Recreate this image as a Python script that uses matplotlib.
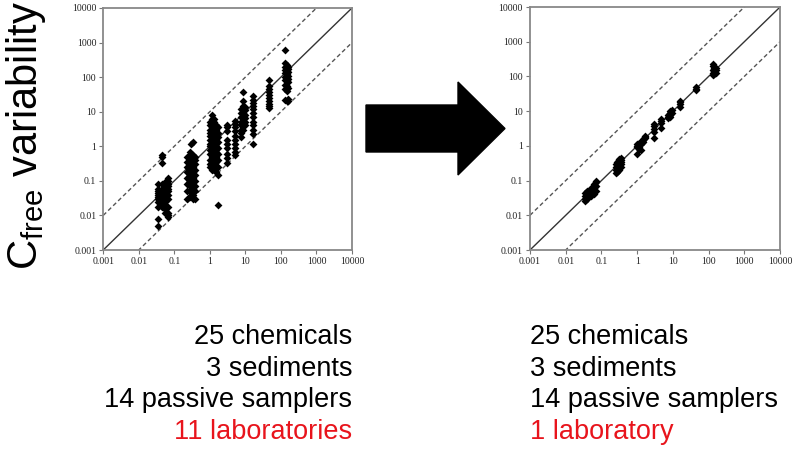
import numpy as np
import matplotlib.pyplot as plt
from matplotlib.patches import Polygon

plt.rcParams['font.family'] = ['Liberation Sans', 'DejaVu Sans']
plt.rcParams['mathtext.default'] = 'regular'

# ── data: one x per column, many y values per column ──
ticks = [0.001, 0.01, 0.1, 1, 10, 100, 1000, 10000]
tick_labels = ["0.001", "0.01", "0.1", "1", "10", "100", "1000", "10000"]

left_x = [0.035, 0.045, 0.055, 0.065,
          0.23, 0.27, 0.30, 0.34, 0.38,
          1.0, 1.15, 1.3, 1.5, 1.7,
          3.0, 5.0, 7.5, 8.5, 9.5, 16.5, 45, 130, 145, 160]
left_y = [
    [0.08, 0.06, 0.05, 0.045, 0.04, 0.035, 0.03, 0.025, 0.018, 0.008, 0.005],
    [0.55, 0.5, 0.32, 0.08, 0.06, 0.05, 0.04, 0.035, 0.03, 0.02, 0.018],
    [0.09, 0.07, 0.06, 0.05, 0.045, 0.04, 0.03, 0.025, 0.02, 0.015, 0.012],
    [0.12, 0.1, 0.08, 0.07, 0.06, 0.05, 0.04, 0.03, 0.018, 0.012, 0.01, 0.009],
    [0.5, 0.35, 0.25, 0.18, 0.12, 0.08, 0.05, 0.03],
    [0.7, 0.5, 0.4, 0.3, 0.22, 0.15, 0.1, 0.07, 0.05, 0.035],
    [1.2, 0.6, 0.45, 0.35, 0.28, 0.2, 0.15, 0.1, 0.08, 0.06, 0.04],
    [1.3, 0.55, 0.4, 0.3, 0.25, 0.18, 0.12, 0.09, 0.06, 0.04, 0.03],
    [0.5, 0.4, 0.3, 0.2, 0.15, 0.1, 0.07, 0.05, 0.03],
    [5, 4, 3, 2.5, 2, 1.5, 1.2, 1, 0.8, 0.6, 0.4, 0.3, 0.25],
    [8, 6, 4.5, 3.5, 2.8, 2.2, 1.8, 1.4, 1.1, 0.9, 0.7, 0.5, 0.35, 0.2],
    [6, 5, 4, 3, 2.4, 1.9, 1.6, 1.3, 1.0, 0.8, 0.6, 0.45, 0.3, 0.2],
    [4, 3, 2.5, 2, 1.6, 1.2, 0.9, 0.7, 0.5, 0.35, 0.25, 0.18],
    [3.5, 2.5, 1.8, 1.3, 0.9, 0.6, 0.4, 0.25, 0.15, 0.02],
    [4.2, 3.5, 2.8, 1.5, 1.2, 0.9, 0.6, 0.45, 0.33],
    [5.5, 4.5, 3.5, 2.8, 2, 1.5, 1.2, 0.9, 0.7, 0.55],
    [12, 9, 7, 5, 4, 3, 2.5, 1.8],
    [37, 20, 15, 11, 9, 7, 6, 5, 4, 3],
    [14, 11, 8, 6.5, 5, 4],
    [28, 22, 18, 15, 12, 9, 7, 5, 4, 3, 2.3, 1.2],
    [80, 55, 45, 38, 30, 25, 20, 17, 15, 13],
    [600, 250, 200, 160, 130, 100, 80, 60, 45, 22],
    [220, 180, 150, 120, 95, 75, 55, 40, 20],
    [200, 170, 140, 110, 90, 70, 50, 23, 21],
]

right_x = [0.035, 0.04, 0.05, 0.06, 0.07,
           0.25, 0.28, 0.32, 0.36,
           1.0, 1.1, 1.25, 1.5, 1.7,
           3.0, 4.8, 7.5, 8.5, 9.5, 16, 45, 130, 145, 160]
right_y = [
    [0.03, 0.025, 0.035, 0.045],
    [0.04, 0.03, 0.05],
    [0.05, 0.04, 0.06, 0.035],
    [0.06, 0.05, 0.07, 0.08, 0.04],
    [0.09, 0.1, 0.07, 0.05],
    [0.2, 0.25, 0.3, 0.17],
    [0.22, 0.28, 0.35, 0.18],
    [0.25, 0.3, 0.38, 0.2, 0.42],
    [0.3, 0.35, 0.4, 0.45, 0.25],
    [0.9, 1.0, 1.15, 0.6],
    [1.2, 0.95, 0.8],
    [1.3, 1.1, 0.75],
    [1.5, 1.6, 1.3],
    [1.7, 1.9, 1.8],
    [4.3, 3.8, 3.0, 2.5, 1.7],
    [6, 5.2, 4.6, 3.3],
    [8, 7, 6.5],
    [10, 9, 8, 7],
    [10.5, 9],
    [20, 18, 16, 13],
    [50, 45, 40],
    [230, 200, 150, 130, 110],
    [180, 160, 140, 120],
    [170, 150, 130],
]

left_lines = ["25 chemicals", "3 sediments", "14 passive samplers", "11 laboratories"]
right_lines = ["25 chemicals", "3 sediments", "14 passive samplers", "1 laboratory"]
red = "#e8141c"


def flatten(xs, ys):
    xx = np.concatenate([[x] * len(y) for x, y in zip(xs, ys)])
    yy = np.concatenate([np.asarray(y, float) for y in ys])
    return xx, yy


def draw_panel(ax, xs, ys):
    lo, hi = ticks[0], ticks[-1]
    ref = np.array([lo, hi])
    ax.plot(ref, ref, color="#333333", lw=1.0)
    ax.plot(ref, ref * 10, color="#555555", lw=1.0, ls=(0, (3, 2)))
    ax.plot(ref, ref / 10, color="#555555", lw=1.0, ls=(0, (3, 2)))
    xx, yy = flatten(xs, ys)
    ax.scatter(xx, yy, marker="D", s=16, color="black", lw=0, zorder=3)
    ax.set_xscale("log")
    ax.set_yscale("log")
    ax.set_xlim(lo, hi)
    ax.set_ylim(lo, hi)
    ax.set_xticks(ticks)
    ax.set_yticks(ticks)
    ax.minorticks_off()
    ax.set_xticklabels(tick_labels, family="Liberation Serif", fontsize=7, color="#222222")
    ax.set_yticklabels(tick_labels, family="Liberation Serif", fontsize=7, color="#222222")
    ax.tick_params(length=3, width=0.8, color="#777777", pad=2)
    for sp in ax.spines.values():
        sp.set_color("#888888")
        sp.set_linewidth(1.3)


fig = plt.figure(figsize=(8, 4.61), dpi=100)
ax1 = fig.add_axes([0.129, 0.4577, 0.311, 0.525])
ax2 = fig.add_axes([0.6625, 0.4577, 0.3125, 0.527])
draw_panel(ax1, left_x, left_y)
draw_panel(ax2, right_x, right_y)

# arrow between the panels (pixel outline -> figure fraction)
arrow_px = [(366, 105), (458, 105), (458, 82), (505, 128.5),
            (458, 175), (458, 152), (366, 152)]
arrow = Polygon([(x / 800, 1 - y / 461) for x, y in arrow_px],
                closed=True, transform=fig.transFigure, color="black")
fig.patches.append(arrow)

fig.text(0.032, 0.705, "$C_{free}$ variability", rotation=90,
         ha="center", va="center", fontsize=30)

y0 = 1 - 337 / 461
dy = 31.5 / 461
for i, s in enumerate(left_lines):
    fig.text(352 / 800, y0 - i * dy, s, ha="right", va="center", fontsize=19.5,
             color=red if i == 3 else "black")
for i, s in enumerate(right_lines):
    fig.text(530 / 800, y0 - i * dy, s, ha="left", va="center", fontsize=19.5,
             color=red if i == 3 else "black")

fig.savefig("out.png", dpi=100)
